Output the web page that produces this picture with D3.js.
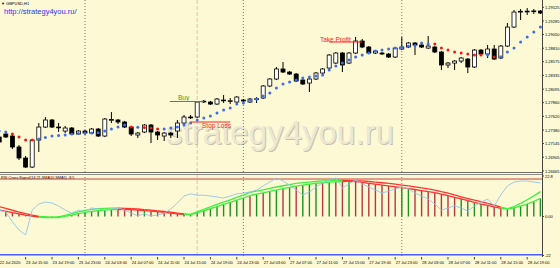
<!DOCTYPE html>
<html><head><meta charset="utf-8">
<script src="https://cdn.jsdelivr.net/npm/d3@7"></script>
<style>body{margin:0;background:#fdf9d4;overflow:hidden}svg{display:block}</style>
</head><body>
<svg id="chart" width="560" height="268"></svg>
<script>
// ---------------- DATA ----------------
const opens = [
1.27259,1.27311,1.27276,1.27084,1.26892,1.26734,1.27206,1.27433,1.27556,1.27433,
1.27363,1.27416,1.27311,1.27363,1.27328,1.27398,1.27276,1.27556,1.27556,1.27521,
1.27433,1.27294,1.27346,1.27468,1.27346,1.27276,1.27328,1.27363,1.27503,1.27608,
1.27608,1.27880,1.27870,1.27835,1.27905,1.27890,1.27870,1.27905,1.27870,1.27923,
1.27940,1.28150,1.28272,1.28447,1.28394,1.28359,1.28254,1.28202,1.28272,1.28377,
1.28464,1.28551,1.28726,1.28551,1.28726,1.28936,1.28831,1.28726,1.28726,1.28709,
1.28656,1.28796,1.28831,1.28901,1.28866,1.28813,1.28831,1.28744,1.28517,1.28551,
1.28586,1.28621,1.28482,1.28778,1.28709,1.28796,1.28639,1.28848,1.29180,1.29450,
1.29455,1.29458,1.29460];
const highs = [
1.27294,1.27328,1.27311,1.27119,1.26927,1.27224,1.27503,1.27608,1.27573,1.27503,
1.27451,1.27433,1.27381,1.27381,1.27416,1.27416,1.27591,1.27695,1.27573,1.27540,
1.27451,1.27346,1.27486,1.27486,1.27363,1.27346,1.27346,1.27556,1.27643,1.27643,
1.27888,1.27905,1.27888,1.27940,1.27992,1.27940,1.27975,1.27923,1.27940,1.27957,
1.28167,1.28289,1.28482,1.28569,1.28412,1.28377,1.28272,1.28307,1.28394,1.28464,
1.28709,1.28744,1.28744,1.28744,1.29006,1.28971,1.28848,1.28778,1.28744,1.28726,
1.28831,1.29006,1.28918,1.28918,1.28883,1.29024,1.28848,1.28761,1.28569,1.28604,
1.28656,1.28639,1.28796,1.28796,1.28866,1.28866,1.28866,1.29250,1.29477,1.29495,
1.29512,1.29495,1.29477];
const lows = [
1.27136,1.27241,1.27049,1.26857,1.26717,1.26717,1.26997,1.27416,1.27416,1.27346,
1.27328,1.27294,1.27294,1.27294,1.27311,1.27259,1.27259,1.27503,1.27486,1.27416,
1.27276,1.27241,1.27328,1.27154,1.27206,1.27189,1.27241,1.27241,1.27486,1.27573,
1.27591,1.27853,1.27818,1.27818,1.27853,1.27835,1.27853,1.27870,1.27853,1.27853,
1.27923,1.28132,1.28254,1.28377,1.28342,1.28219,1.28167,1.28045,1.28254,1.28359,
1.28447,1.28534,1.28394,1.28534,1.28709,1.28813,1.28709,1.28709,1.28691,1.28639,
1.28639,1.28778,1.28813,1.28691,1.28813,1.28796,1.28726,1.28429,1.28464,1.28429,
1.28551,1.28377,1.28464,1.28674,1.28639,1.28604,1.28621,1.28831,1.29163,1.29303,
1.29390,1.29407,1.29407];
const closes = [
1.27171,1.27259,1.27084,1.26892,1.26734,1.27206,1.27433,1.27556,1.27433,1.27425,
1.27416,1.27311,1.27363,1.27328,1.27398,1.27276,1.27573,1.27565,1.27521,1.27433,
1.27311,1.27328,1.27468,1.27346,1.27294,1.27328,1.27294,1.27503,1.27608,1.27600,
1.27870,1.27885,1.27835,1.27923,1.27895,1.27893,1.27957,1.27888,1.27923,1.27928,
1.28150,1.28272,1.28447,1.28394,1.28359,1.28237,1.28185,1.28272,1.28377,1.28447,
1.28691,1.28726,1.28517,1.28726,1.28936,1.28831,1.28726,1.28761,1.28709,1.28656,
1.28813,1.28831,1.28901,1.28866,1.28831,1.28848,1.28744,1.28517,1.28551,1.28586,
1.28639,1.28482,1.28778,1.28709,1.28796,1.28621,1.28848,1.29180,1.29442,1.29455,
1.29458,1.29462,1.29425];
const maDots = [
1.27363,1.27346,1.27311,1.27259,1.27206,1.27206,1.27224,1.27250,1.27276,1.27285,
1.27294,1.27311,1.27320,1.27328,1.27330,1.27333,1.27363,1.27398,1.27433,1.27468,
1.27433,1.27430,1.27425,1.27416,1.27398,1.27400,1.27416,1.27433,1.27468,1.27503,
1.27556,1.27591,1.27625,1.27678,1.27730,1.27765,1.27835,1.27853,1.27905,1.27923,
1.27975,1.28027,1.28115,1.28185,1.28219,1.28254,1.28289,1.28307,1.28324,1.28342,
1.28429,1.28499,1.28551,1.28604,1.28656,1.28691,1.28726,1.28761,1.28778,1.28796,
1.28813,1.28822,1.28848,1.28857,1.28901,1.28883,1.28883,1.28813,1.28778,1.28744,
1.28726,1.28709,1.28691,1.28690,1.28691,1.28656,1.28660,1.28744,1.28813,1.28918,
1.29006,1.29093,1.29180];
const maColors = "bbrrrrbbbbbbbbbbbbbbrbrrrbbbbbbbbbbbbbbbbbbbbbbbbbbbbbbbbbbbbbbbbbrrrrrrrrbrbbbbbbb";

// indicator panel: two signal lines (upper / lower), RSI line, histogram colours
const lineUpper = [
5.5,4.5,3.5,2.5,1.6,0.8,0.1,-0.3,-0.4,-0.3,
0.6,1.6,2.6,3.4,4.0,4.4,4.6,4.7,4.7,4.6,
4.4,4.2,3.9,3.6,3.2,2.8,2.4,1.9,1.5,1.2,
2.6,4.0,5.4,6.8,8.1,9.4,10.7,12.0,13.6,14.3,
15.0,15.8,16.6,17.3,18.0,18.7,19.1,19.4,19.7,20.0,
20.2,20.3,20.3,20.2,20.1,20.0,19.7,19.4,19.0,18.6,
18.2,17.7,17.2,16.7,16.1,15.5,14.9,14.0,13.1,12.1,
11.1,10.1,9.2,8.3,7.4,6.4,5.3,4.4,5.6,7.4,
9.4,11.6,14.0];
const lineLower = [
3.6,2.9,2.2,1.5,0.8,0.2,-0.3,-0.6,-0.7,-0.6,
0.0,0.8,1.6,2.3,2.9,3.3,3.6,3.8,3.9,3.9,
3.8,3.6,3.3,3.0,2.7,2.3,1.9,1.5,1.2,1.0,
2.0,3.2,4.4,5.6,6.8,8.0,9.2,10.4,11.8,12.6,
13.3,14.1,14.9,15.7,16.4,17.1,17.7,18.2,18.6,19.0,
19.3,19.5,19.7,19.9,19.6,19.2,18.7,18.2,17.7,17.2,
16.7,16.2,15.7,15.2,14.6,14.0,13.4,12.6,11.7,10.8,
9.9,8.9,7.9,7.0,6.2,5.4,4.6,4.1,4.8,5.8,
7.0,8.5,10.2];
const lineColors = "rrrrrrrggggggggggggrrrrrrrrrrggggggggggggggggggggggggrrrrrrrrrrrrrrrrrrrrrrrrggggggg";
const histColors = "rrrrrrrgggggrgggggrrrrgrrrrrrgggggggggrgrggrgrgggrgrrgrrrrrrrggrrrrrrrggggrrrggggggg";
const rsiLine = [
3.6,2.5,-3,-7.6,-10.4,3.6,7,8.1,7.6,5.9,
3.6,1.9,3.6,2.5,4.8,4.2,3.6,4.2,4.8,3.6,
1.9,0.3,1.4,0.3,0.8,1.9,4.2,7.6,11.5,12.7,
12,12,11.5,11,10.4,11.5,12.7,13.2,13.8,14.9,
17.2,19.4,21.7,20,17.7,14.9,12.1,13.8,16.6,18.9,
20.5,21.7,16,18.3,20.5,18.3,16.6,14.9,13.2,14.3,
15.5,16.6,15.5,13.2,11.5,9.8,7,3.6,4.8,5.9,
4.8,3,5.9,8.1,9.8,5.9,12.1,17.2,19.4,20,
20,19.4,18.9];
const levelTop = 21.1, levelBottom = -21.6;

const priceTicks = [1.29525,1.29285,1.29050,1.28810,1.28575,1.28335,1.28095,1.27860,1.27620,1.27380,1.27145,1.26905,1.26665];
const timeLabels = ["22 Jul 2020","23 Jul 15:00","23 Jul 19:00","23 Jul 23:00","24 Jul 03:00","24 Jul 07:00","24 Jul 11:00","24 Jul 15:00","24 Jul 19:00","24 Jul 23:00","27 Jul 03:00","27 Jul 07:00","27 Jul 11:00","27 Jul 15:00","27 Jul 19:00","27 Jul 23:00","28 Jul 03:00","28 Jul 07:00","28 Jul 11:00","28 Jul 15:00","28 Jul 19:00"];
const timeLabelIdx = [0,4,8,12,16,20,24,28,32,36,40,44,48,52,56,60,64,68,72,76,80];
const daySeparators = [13,37,61];
const signalBar = 30;
const buyPrice = 1.27879, stopPrice = 1.27521, takePrice = 1.28919;
const indTicks = [22.8, 0, -22];

// ---------------- DRAW ----------------
const svg = d3.select("#chart");
const W = 560, plotR = 542;
const n = opens.length;
const x = d3.scaleLinear().domain([0, n - 1]).range([-0.8, 540.4]);
const y = d3.scaleLinear().domain([1.26665, 1.29525]).range([171, 7.3]);
const yi = d3.scaleLinear().domain([-22, 22.8]).range([255.5, 176]);
const font = "Arial, 'Liberation Sans', sans-serif";

svg.append("rect").attr("width", W).attr("height", 268).attr("fill", "#fdf9d4");

// watermark (embossed look)
const wm = svg.append("g").attr("font-family", font).attr("font-size", 34);
wm.append("text").attr("x", 167).attr("y", 145).attr("textLength", 228).attr("lengthAdjust", "spacingAndGlyphs").attr("fill", "#c6c2ae").text("strategy4you.ru");
wm.append("text").attr("x", 166).attr("y", 144).attr("textLength", 228).attr("lengthAdjust", "spacingAndGlyphs").attr("fill", "#ece8d3").text("strategy4you.ru");

// separators
daySeparators.forEach(i => {
  svg.append("line").attr("x1", x(i)).attr("x2", x(i)).attr("y1", 0).attr("y2", 257)
    .attr("stroke", "#555").attr("stroke-width", 0.8).attr("stroke-dasharray", "1,2");
});
svg.append("line").attr("x1", x(signalBar)).attr("x2", x(signalBar)).attr("y1", 0).attr("y2", 257)
  .attr("stroke", "#f0a8a8").attr("stroke-width", 0.8).attr("stroke-dasharray", "4,2");

// candles
const idx = d3.range(n);
const g = svg.append("g");
g.selectAll("line.w").data(idx).join("line")
  .attr("x1", i => x(i)).attr("x2", i => x(i)).attr("y1", i => y(highs[i])).attr("y2", i => y(lows[i]))
  .attr("stroke", "#000").attr("stroke-width", 1);
g.selectAll("rect.b").data(idx).join("rect")
  .attr("x", i => x(i) - 2).attr("width", 4)
  .attr("y", i => y(Math.max(opens[i], closes[i])))
  .attr("height", i => Math.max(0.8, Math.abs(y(opens[i]) - y(closes[i]))))
  .attr("fill", i => closes[i] >= opens[i] ? "#fff" : "#000")
  .attr("stroke", "#000").attr("stroke-width", 0.8);

// MA dots
g.selectAll("circle.d").data(idx).join("circle")
  .attr("cx", i => x(i)).attr("cy", i => y(maDots[i])).attr("r", 1.5)
  .attr("fill", i => maColors[i] === "b" ? "#3d6ef0" : "#f21818");

// Buy / Stop / Take lines
function level(x1, x2, p, col, label, lx, ly) {
  svg.append("line").attr("x1", x1).attr("x2", x2).attr("y1", y(p)).attr("y2", y(p)).attr("stroke", col).attr("stroke-width", 1);
  svg.append("text").attr("x", lx).attr("y", ly).attr("font-family", font).attr("font-size", 6.5).attr("fill", col).text(label);
}
level(x(26) - 1, x(31), buyPrice, "#2f9f2f", "Buy", 178, 99.5);
level(x(29), x(35), stopPrice, "#ff2020", "Stop Loss", 202, 127.5);
level(x(50), x(55), takePrice, "#ff2020", "Take Profit", 320, 42);

// titles
svg.append("text").attr("x", 1).attr("y", 4.5).attr("font-family", font).attr("font-size", 4).attr("fill", "#000").text("\u25BC GBPUSD,H1");
svg.append("text").attr("x", 4).attr("y", 14).attr("font-family", font).attr("font-size", 7.5).attr("fill", "#3030ff").text("http://strategy4you.ru/");

// panel separator
svg.append("line").attr("x1", 0).attr("x2", plotR).attr("y1", 172.5).attr("y2", 172.5).attr("stroke", "#6f6f68").attr("stroke-width", 1);
svg.append("line").attr("x1", 0).attr("x2", plotR).attr("y1", 174.5).attr("y2", 174.5).attr("stroke", "#8f8f88").attr("stroke-width", 1);
svg.append("text").attr("x", 1).attr("y", 178.5).attr("font-family", font).attr("font-size", 3.8).attr("fill", "#000").text("RSI Cross Signal(14,21,SMA10,SMA5) -8.5");

// levels
svg.append("line").attr("x1", 0).attr("x2", plotR).attr("y1", yi(levelTop)).attr("y2", yi(levelTop)).attr("stroke", "#c84040").attr("stroke-width", 1);
svg.append("line").attr("x1", 0).attr("x2", plotR).attr("y1", yi(levelBottom)).attr("y2", yi(levelBottom)).attr("stroke", "#4a5cff").attr("stroke-width", 1.4);

// histogram (up to the lower signal line)
g.selectAll("line.h").data(idx).join("line")
  .attr("x1", i => x(i)).attr("x2", i => x(i)).attr("y1", yi(0)).attr("y2", i => yi(lineLower[i]))
  .attr("stroke", i => histColors[i] === "g" ? "#1f8f1f" : "#b33a3a").attr("stroke-width", 1.4);

// RSI line
svg.append("path").datum(idx).attr("fill", "none").attr("stroke", "#93c4ec").attr("stroke-width", 0.9)
  .attr("d", d3.line().x(i => x(i)).y(i => yi(rsiLine[i])));

// signal lines (segments coloured per bar)
[lineUpper, lineLower].forEach(arr => {
  g.selectAll(null).data(d3.range(n - 1)).join("line")
    .attr("x1", i => x(i)).attr("x2", i => x(i + 1))
    .attr("y1", i => yi(arr[i])).attr("y2", i => yi(arr[i + 1]))
    .attr("stroke", i => lineColors[i + 1] === "g" ? "#3cf03c" : "#ff3030").attr("stroke-width", 1.3);
});

// price axis line
svg.append("line").attr("x1", plotR + 0.5).attr("x2", plotR + 0.5).attr("y1", 0).attr("y2", 257).attr("stroke", "#444").attr("stroke-width", 1);

// price axis
const ya = svg.append("g");
priceTicks.forEach(p => {
  ya.append("line").attr("x1", plotR).attr("x2", plotR + 2).attr("y1", y(p)).attr("y2", y(p)).attr("stroke", "#444");
  ya.append("text").attr("x", plotR + 3).attr("y", y(p) + 1.5).attr("font-family", font).attr("font-size", 4).attr("fill", "#000")
    .text(p.toFixed(5));
});
indTicks.forEach(v => {
  ya.append("line").attr("x1", plotR).attr("x2", plotR + 2).attr("y1", yi(v)).attr("y2", yi(v)).attr("stroke", "#444");
  ya.append("text").attr("x", plotR + 3).attr("y", yi(v) + 1.5).attr("font-family", font).attr("font-size", 4).attr("fill", "#000")
    .text(v === 0 ? "0.00" : String(v));
});
// time axis
timeLabelIdx.forEach((ti, k) => {
  svg.append("line").attr("x1", x(ti)).attr("x2", x(ti)).attr("y1", 257).attr("y2", 259.5).attr("stroke", "#444");
  svg.append("text").attr("x", x(ti) + 0.5).attr("y", 264).attr("font-family", font).attr("font-size", 4).attr("fill", "#000").text(timeLabels[k]);
});
</script>
</body></html>
